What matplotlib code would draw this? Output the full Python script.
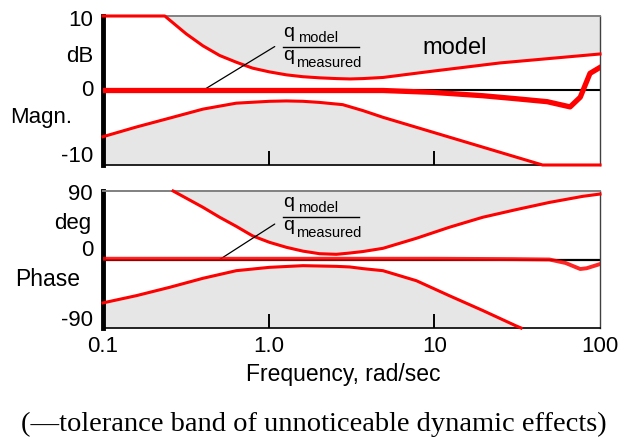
import matplotlib

matplotlib.use("Agg")
import matplotlib.pyplot as plt
from matplotlib.lines import Line2D

W, H = 618, 440

# magnitude: tolerance band and measured ratio (dB)
mag_up_freq = [0.1, 0.236, 0.318, 0.401, 0.506, 0.637, 0.80, 1.01, 1.28, 1.61, 2.03,
               2.56, 3.1, 3.71, 4.9, 9.8, 24.9, 100]
mag_up_db = [10, 10, 7.6, 6.0, 4.7, 3.8, 3.0, 2.5, 2.1, 1.85, 1.7,
             1.6, 1.55, 1.6, 1.75, 2.6, 3.7, 4.9]
mag_lo_freq = [0.1, 0.159, 0.253, 0.401, 0.637, 1.01, 1.28, 1.61, 2.03, 2.8, 3.71,
               4.9, 9.8, 19.6, 45, 100]
mag_lo_db = [-6.2, -4.9, -3.7, -2.5, -1.7, -1.45, -1.4, -1.45, -1.6, -1.9, -2.7,
             -3.6, -5.6, -7.6, -10, -10]
mag_meas_freq = [0.1, 1.0, 4.9, 9.8, 19.6, 31, 48, 66, 76, 87, 100]
mag_meas_db = [0, 0, 0, -0.25, -0.7, -1.1, -1.5, -2.2, -0.9, 2.3, 3.1]

# phase: tolerance band and measured ratio (deg)
ph_up_freq = [0.265, 0.401, 0.506, 0.637, 0.80, 1.01, 1.28, 1.61, 2.03, 2.56, 3.09,
              3.71, 4.9, 7.8, 12.3, 19.6, 31, 49.5, 78.8, 100]
ph_up_deg = [90, 68.6, 55.5, 43.6, 31, 22.6, 16, 11, 7.6, 6.8, 8.5,
             10.5, 14.7, 27.9, 42.3, 55.5, 65.4, 75, 83, 86]
ph_lo_freq = [0.1, 0.159, 0.253, 0.401, 0.637, 1.01, 1.61, 2.56, 3.09, 3.71, 4.9,
              7.8, 12.3, 19.6, 31, 33.4]
ph_lo_deg = [-57, -47.5, -36.5, -24.7, -14.7, -10.3, -8.1, -9, -9.8, -12, -14.7,
             -27.9, -47.5, -67, -87, -90]
ph_meas_freq = [0.1, 1.0, 10, 30, 49.5, 62, 76, 83, 100]
ph_meas_deg = [1, 1, 1, 0.5, 0, -4.6, -12.5, -11.5, -6]

xtick_vals = [0.1, 1, 10, 100]
xtick_text = ["0.1", "1.0", "10", "100"]

RED = "#ff0000"
GREY = "#e6e6e6"
SANS = "Liberation Sans"
SERIF = "Liberation Serif"


def px(x, y):
    # pixel position (from top-left) -> figure fraction
    return x / W, 1 - y / H


def style_axes(ax, ylim):
    ax.set_xscale("log")
    ax.set_xlim(0.1, 100)
    ax.set_ylim(*ylim)
    ax.set_yticks([])
    ax.set_xticks([1, 10])
    ax.set_xticklabels([])
    ax.minorticks_off()
    ax.tick_params(axis="x", direction="in", length=10, width=1.4, color="black")
    ax.tick_params(axis="y", left=False)
    ax.spines["left"].set_linewidth(3.5)
    ax.spines["left"].set_color("black")
    ax.spines["bottom"].set_linewidth(1.2)
    ax.spines["top"].set_color("#808080")
    ax.spines["top"].set_linewidth(1.4)
    ax.spines["right"].set_color("#404040")
    ax.spines["right"].set_linewidth(1.0)


def fraction(fig, x, ybar):
    fig.add_artist(Line2D([x / W, (x + 76) / W], [1 - ybar / H] * 2,
                          color="black", lw=1.0))
    fig.text(*px(x, ybar - 10), "q", fontsize=14, family=SANS, va="baseline")
    fig.text(*px(x + 15, ybar - 5), "model", fontsize=10.5, family=SANS, va="baseline")
    fig.text(*px(x, ybar + 13), "q", fontsize=14, family=SANS, va="baseline")
    fig.text(*px(x + 13, ybar + 20), "measured", fontsize=10.5, family=SANS, va="baseline")


fig = plt.figure(figsize=(W / 100, H / 100), dpi=100)
ax_m = fig.add_axes([103 / W, 1 - 165 / H, 497 / W, 149 / H])
ax_p = fig.add_axes([103 / W, 1 - 328 / H, 497 / W, 137 / H])

# magnitude panel
style_axes(ax_m, (-10, 10))
ax_m.fill_between(mag_up_freq, mag_up_db, 10, color=GREY, lw=0)
ax_m.fill_between(mag_lo_freq, -10, mag_lo_db, color=GREY, lw=0)
ax_m.plot(mag_up_freq, mag_up_db, color=RED, lw=2.2, clip_on=False, zorder=3)
ax_m.plot(mag_lo_freq, mag_lo_db, color=RED, lw=2.2, clip_on=False, zorder=3)
ax_m.axhline(0, color="black", lw=1.5, zorder=2)
ax_m.plot(mag_meas_freq, mag_meas_db, color=RED, lw=3.8, zorder=4)
ax_m.annotate("", xy=(0.40, 0), xytext=(1.088, 5.9),
              arrowprops=dict(arrowstyle="-", color="black", lw=0.9, shrinkA=0, shrinkB=0))

# phase panel
style_axes(ax_p, (-90, 90))
ax_p.fill_between(ph_up_freq, ph_up_deg, 90, color=GREY, lw=0)
ax_p.fill_between(ph_lo_freq, -90, ph_lo_deg, color=GREY, lw=0)
ax_p.plot(ph_up_freq, ph_up_deg, color=RED, lw=2.2, clip_on=False, zorder=3)
ax_p.plot(ph_lo_freq, ph_lo_deg, color=RED, lw=2.2, clip_on=False, zorder=3)
ax_p.axhline(0, color="black", lw=1.6, zorder=2)
ax_p.plot(ph_meas_freq, ph_meas_deg, color=RED, lw=2.8, zorder=4, alpha=0.85)
ax_p.annotate("", xy=(0.506, 0), xytext=(1.088, 46.6),
              arrowprops=dict(arrowstyle="-", color="black", lw=0.9, shrinkA=0, shrinkB=0))

fig.text(*px(422, 48), "model", fontsize=17, family=SANS, va="center")
fraction(fig, 283, 47)
fraction(fig, 283, 217)

lab = dict(fontsize=16, family=SANS, va="center", ha="right")
fig.text(*px(93, 21), "10", **lab)
fig.text(*px(93, 56), "dB", **lab)
fig.text(*px(93, 90), "0", **lab)
fig.text(*px(72, 118), "Magn.", **lab)
fig.text(*px(93, 157), "-10", **lab)
fig.text(*px(93, 195), "90", **lab)
fig.text(*px(91, 224), "deg", **lab)
fig.text(*px(93, 250), "0", **lab)
fig.text(*px(80, 279), "Phase", fontsize=16.5, family=SANS, va="center", ha="right")
fig.text(*px(93, 320), "-90", **lab)

# x tick labels under the phase panel
for v, t in zip(xtick_vals, xtick_text):
    ax_p.text(v, -0.06, t, transform=ax_p.get_xaxis_transform(), ha="center", va="top",
              fontsize=16, family=SANS)

fig.text(*px(343, 374), "Frequency, rad/sec", fontsize=16.5, family=SANS,
         ha="center", va="center")
fig.text(*px(314, 424), "(\u2014tolerance band of unnoticeable dynamic effects)",
         fontsize=20.5, family=SERIF, ha="center", va="center")

fig.savefig("out.png", dpi=100)
